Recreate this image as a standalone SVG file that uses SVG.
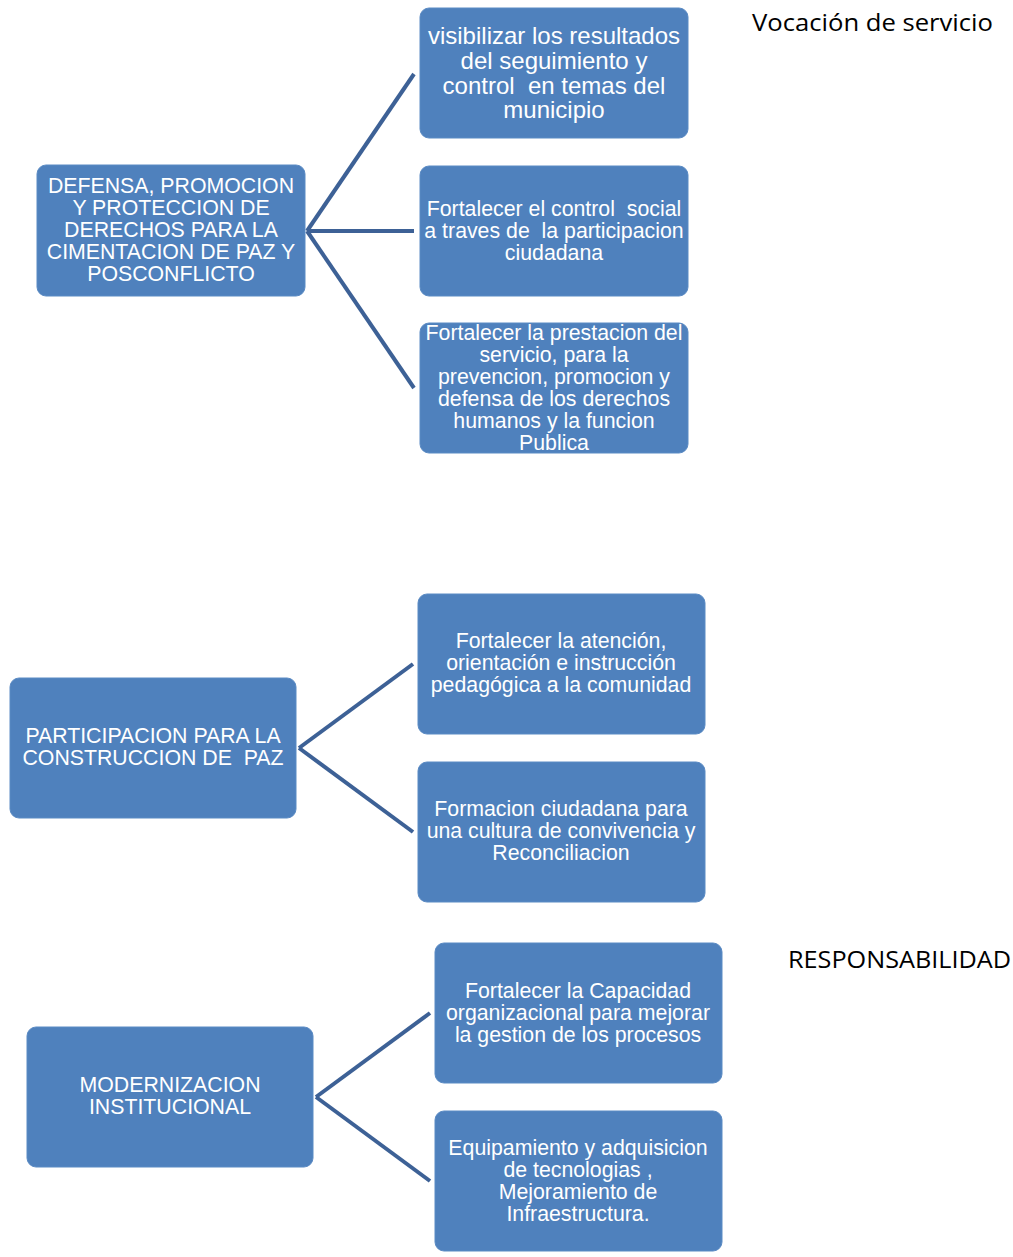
<svg xmlns="http://www.w3.org/2000/svg" width="1013" height="1257" viewBox="0 0 1013 1257" xml:space="preserve">
<style>
.box{fill:#4f81bd;stroke:#5b8bc4;stroke-width:1}
text{white-space:pre}
.t{fill:#ffffff;font-family:"Liberation Sans",Arial,sans-serif;font-size:21.3px;text-anchor:middle}
.t2{fill:#ffffff;font-family:"Liberation Sans",Arial,sans-serif;font-size:24px;text-anchor:middle}
.lbl{fill:#000000;font-family:"Open Sans","Liberation Sans",sans-serif;font-size:23px}
.c{stroke:#3d6196;stroke-width:4;fill:none;stroke-linecap:butt}
</style>
<rect width="1013" height="1257" fill="#ffffff"/>
<g id="connectors">
<path class="c" d="M307 231 L414 74"/>
<path class="c" d="M307 231 L414 231"/>
<path class="c" d="M307 231 L414 388"/>
<path class="c" d="M299 748 L413 664"/>
<path class="c" d="M299 748 L413 832"/>
<path class="c" d="M316 1097 L430 1013"/>
<path class="c" d="M316 1097 L430 1181"/>
</g>
<g id="root1">
<rect class="box" x="37" y="165" width="268" height="131" rx="9"/>
<text class="t" x="171" y="193">DEFENSA, PROMOCION</text>
<text class="t" x="171" y="215">Y PROTECCION DE</text>
<text class="t" x="171" y="237">DERECHOS PARA LA</text>
<text class="t" x="171" y="259">CIMENTACION DE PAZ Y</text>
<text class="t" x="171" y="281">POSCONFLICTO</text>
</g>
<g id="n1a">
<rect class="box" x="420" y="8" width="268" height="130" rx="9"/>
<text class="t2" x="554" y="44">visibilizar los resultados</text>
<text class="t2" x="554" y="69">del seguimiento y</text>
<text class="t2" x="554" y="94">control  en temas del</text>
<text class="t2" x="554" y="118">municipio</text>
</g>
<g id="n1b">
<rect class="box" x="420" y="166" width="268" height="130" rx="9"/>
<text class="t" x="554" y="216">Fortalecer el control  social</text>
<text class="t" x="554" y="238">a traves de  la participacion</text>
<text class="t" x="554" y="260">ciudadana</text>
</g>
<g id="n1c">
<rect class="box" x="420" y="323" width="268" height="130" rx="9"/>
<text class="t" x="554" y="340">Fortalecer la prestacion del</text>
<text class="t" x="554" y="362">servicio, para la</text>
<text class="t" x="554" y="384">prevencion, promocion y</text>
<text class="t" x="554" y="406">defensa de los derechos</text>
<text class="t" x="554" y="428">humanos y la funcion</text>
<text class="t" x="554" y="450">Publica</text>
</g>
<g id="root2">
<rect class="box" x="10" y="678" width="286" height="140" rx="9"/>
<text class="t" x="153" y="743">PARTICIPACION PARA LA</text>
<text class="t" x="153" y="765">CONSTRUCCION DE  PAZ</text>
</g>
<g id="n2a">
<rect class="box" x="418" y="594" width="287" height="140" rx="9"/>
<text class="t" x="561" y="648">Fortalecer la atención,</text>
<text class="t" x="561" y="670">orientación e instrucción</text>
<text class="t" x="561" y="692">pedagógica a la comunidad</text>
</g>
<g id="n2b">
<rect class="box" x="418" y="762" width="287" height="140" rx="9"/>
<text class="t" x="561" y="816">Formacion ciudadana para</text>
<text class="t" x="561" y="838">una cultura de convivencia y</text>
<text class="t" x="561" y="860">Reconciliacion</text>
</g>
<g id="root3">
<rect class="box" x="27" y="1027" width="286" height="140" rx="9"/>
<text class="t" x="170" y="1092">MODERNIZACION</text>
<text class="t" x="170" y="1114">INSTITUCIONAL</text>
</g>
<g id="n3a">
<rect class="box" x="435" y="943" width="287" height="140" rx="9"/>
<text class="t" x="578" y="998">Fortalecer la Capacidad</text>
<text class="t" x="578" y="1020">organizacional para mejorar</text>
<text class="t" x="578" y="1042">la gestion de los procesos</text>
</g>
<g id="n3b">
<rect class="box" x="435" y="1111" width="287" height="140" rx="9"/>
<text class="t" x="578" y="1155">Equipamiento y adquisicion</text>
<text class="t" x="578" y="1177">de tecnologias ,</text>
<text class="t" x="578" y="1199">Mejoramiento de</text>
<text class="t" x="578" y="1221">Infraestructura.</text>
</g>
<text class="lbl" x="752" y="31" textLength="241" lengthAdjust="spacingAndGlyphs">Vocación de servicio</text>
<text class="lbl" x="788" y="968" textLength="223" lengthAdjust="spacingAndGlyphs">RESPONSABILIDAD</text>
</svg>
